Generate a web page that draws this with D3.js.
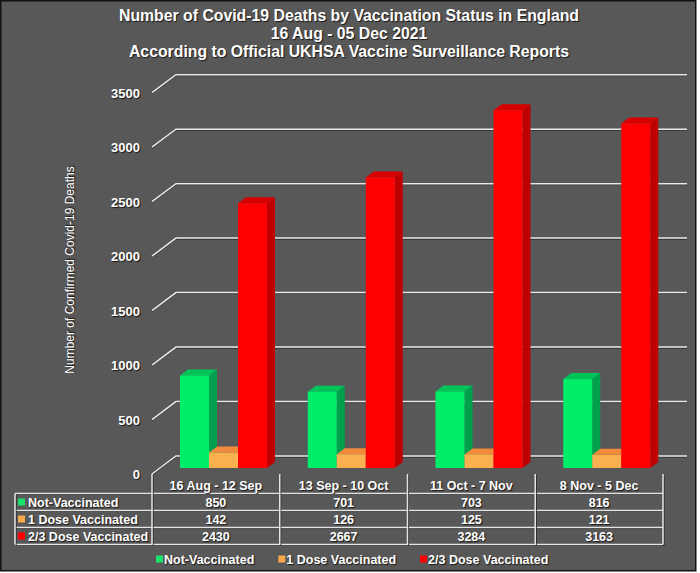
<!DOCTYPE html>
<html>
<head>
<meta charset="utf-8">
<script src="https://cdn.jsdelivr.net/npm/d3@7"></script>
<style>
  body { margin: 0; background: #fff; }
  svg text { font-family: "Liberation Sans", Arial, sans-serif; fill: #fff; }
  .sh { text-shadow: 1px 1px 1px #1a1a1a; }
</style>
</head>
<body>
<svg id="chart" width="700" height="573"></svg>
<script>
// chart values
const categories = ["16 Aug - 12 Sep", "13 Sep - 10 Oct", "11 Oct - 7 Nov", "8 Nov - 5 Dec"];
const seriesNames = ["Not-Vaccinated", "1 Dose Vaccinated", "2/3 Dose Vaccinated"];
const notVaccinated = [850, 701, 703, 816];
const oneDose = [142, 126, 125, 121];
const twoThreeDose = [2430, 2667, 3284, 3163];
const yTicks = [0, 500, 1000, 1500, 2000, 2500, 3000, 3500];
const titleLines = [
  "Number of Covid-19 Deaths by Vaccination Status in England",
  "16 Aug - 05 Dec 2021",
  "According to Official UKHSA Vaccine Surveillance Reports"
];

const seriesValues = [notVaccinated, oneDose, twoThreeDose];
// front / top / side shades for the 3d bars
const colors = [
  { front: "#00ee6a", top: "#00c458", side: "#00a04c", key: "#19e36a" },
  { front: "#fbb050", top: "#f28a3c", side: "#d07a2c", key: "#f7a94a" },
  { front: "#ff0000", top: "#d60000", side: "#bf0000", key: "#ff0000" }
];

const svg = d3.select("#chart");

// panel
svg.append("rect")
  .attr("x", 0.75).attr("y", 0.75)
  .attr("width", 695).attr("height", 570)
  .attr("fill", "#595858")
  .attr("stroke", "#111").attr("stroke-width", 1.5);

// title
svg.append("g").selectAll("text")
  .data(titleLines)
  .join("text")
  .attr("class", "sh")
  .attr("x", 349)
  .attr("y", (d, i) => 21 + i * 18)
  .attr("text-anchor", "middle")
  .attr("font-size", "15.8px")
  .attr("font-weight", "bold")
  .text(d => d);

// scales (front plane of the floor)
const x = d3.scaleBand().domain(categories).range([152, 663]);
const y = d3.scaleLinear().domain([0, 3500]).range([474, 92.7]);
const depthX = 24, depthY = -18;   // full depth of the 3d box
const off = f => [depthX * f, depthY * f];

// grid: diagonal on the left wall + line on the back wall
const grid = svg.append("g");
const back = off(1);
yTicks.forEach(t => {
  const yf = y(t), yb = y(t) + back[1];
  grid.append("path")
    .attr("d", `M${x.range()[0]},${yf + 1}L${x.range()[0] + back[0]},${yb + 1}H${x.range()[1] + back[0]}`)
    .attr("fill", "none").attr("stroke", "#262626").attr("stroke-width", 1);
  grid.append("path")
    .attr("d", `M${x.range()[0]},${yf}L${x.range()[0] + back[0]},${yb}H${x.range()[1] + back[0]}`)
    .attr("fill", "none").attr("stroke", "#e8e8e8").attr("stroke-width", 1.5);
});

// y tick labels
svg.append("g").selectAll("text")
  .data(yTicks)
  .join("text")
  .attr("class", "sh")
  .attr("x", 140)
  .attr("y", d => y(d) + 5)
  .attr("text-anchor", "end")
  .attr("font-size", "13px")
  .attr("font-weight", "bold")
  .text(d => d);

// y axis title
svg.append("text")
  .attr("class", "sh")
  .attr("transform", "translate(74,270) rotate(-90)")
  .attr("text-anchor", "middle")
  .attr("font-size", "12px")
  .text("Number of Confirmed Covid-19 Deaths");

// bars (front face at 1/3 of the depth, back face at 2/3)
const xs = d3.scaleBand().domain(seriesNames).range([20, 107]);
const bf = off(1 / 3), bd = [depthX / 3, depthY / 3];
const bars = svg.append("g");
categories.forEach((c, ci) => {
  seriesNames.forEach((s, si) => {
    const v = seriesValues[si][ci];
    const x0 = x(c) + bf[0] + xs(s), x1 = x0 + xs.bandwidth();
    const y0 = y(0) + bf[1], y1 = y(v) + bf[1];
    const col = colors[si];
    // side
    bars.append("path")
      .attr("d", `M${x1},${y0}L${x1 + bd[0]},${y0 + bd[1]}L${x1 + bd[0]},${y1 + bd[1]}L${x1},${y1}Z`)
      .attr("fill", col.side);
    // top
    bars.append("path")
      .attr("d", `M${x0},${y1}L${x0 + bd[0]},${y1 + bd[1]}L${x1 + bd[0]},${y1 + bd[1]}L${x1},${y1}Z`)
      .attr("fill", col.top);
    // front
    bars.append("rect")
      .attr("x", x0).attr("y", y1)
      .attr("width", xs.bandwidth()).attr("height", y0 - y1)
      .attr("fill", col.front);
  });
});

// data table
const table = svg.append("g");
const rowTop = 493.5, rowH = 17, tableLeft = 15, tableTop = 474;
const fs = "12.5px";
const line = (x1, y1, x2, y2) => {
  table.append("line").attr("x1", x1 + 1).attr("y1", y1 + 1).attr("x2", x2 + 1).attr("y2", y2 + 1)
    .attr("stroke", "#222").attr("stroke-width", 1);
  table.append("line").attr("x1", x1).attr("y1", y1).attr("x2", x2).attr("y2", y2)
    .attr("stroke", "#e4e4e4").attr("stroke-width", 1.5);
};
for (let r = 0; r <= 3; r++) line(tableLeft, rowTop + r * rowH, x.range()[1], rowTop + r * rowH);
line(tableLeft, rowTop, tableLeft, rowTop + 3 * rowH);
categories.forEach(c => line(x(c), tableTop, x(c), rowTop + 3 * rowH));
line(x.range()[1], tableTop, x.range()[1], rowTop + 3 * rowH);

// category header
table.selectAll("text.cat")
  .data(categories)
  .join("text")
  .attr("class", "cat sh")
  .attr("x", c => x(c) + x.bandwidth() / 2)
  .attr("y", rowTop - 4)
  .attr("text-anchor", "middle")
  .attr("font-size", fs)
  .attr("font-weight", "bold")
  .text(c => c);

seriesNames.forEach((s, si) => {
  const ym = rowTop + si * rowH + rowH / 2;
  table.append("rect")
    .attr("x", 18).attr("y", ym - 3.5)
    .attr("width", 7).attr("height", 7)
    .attr("fill", colors[si].key);
  table.append("text")
    .attr("class", "sh")
    .attr("x", 28).attr("y", ym + 4.5)
    .attr("font-size", fs)
    .attr("font-weight", "bold")
    .text(s);
  categories.forEach((c, ci) => {
    table.append("text")
      .attr("class", "sh")
      .attr("x", x(c) + x.bandwidth() / 2).attr("y", ym + 4.5)
      .attr("text-anchor", "middle")
      .attr("font-size", fs)
      .attr("font-weight", "bold")
      .text(seriesValues[si][ci]);
  });
});

// legend
const legend = svg.append("g");
const items = legend.selectAll("g")
  .data(seriesNames)
  .join("g");
items.append("rect")
  .attr("y", 555.5).attr("width", 7).attr("height", 7)
  .attr("fill", (d, i) => colors[i].key);
items.append("text")
  .attr("class", "sh")
  .attr("x", 8).attr("y", 563.5)
  .attr("font-size", fs)
  .attr("font-weight", "bold")
  .text(d => d);
let lx = 156;
items.each(function () {
  d3.select(this).attr("transform", `translate(${lx},0)`);
  lx += 8 + this.querySelector("text").getComputedTextLength() + 24;
});
</script>
</body>
</html>
